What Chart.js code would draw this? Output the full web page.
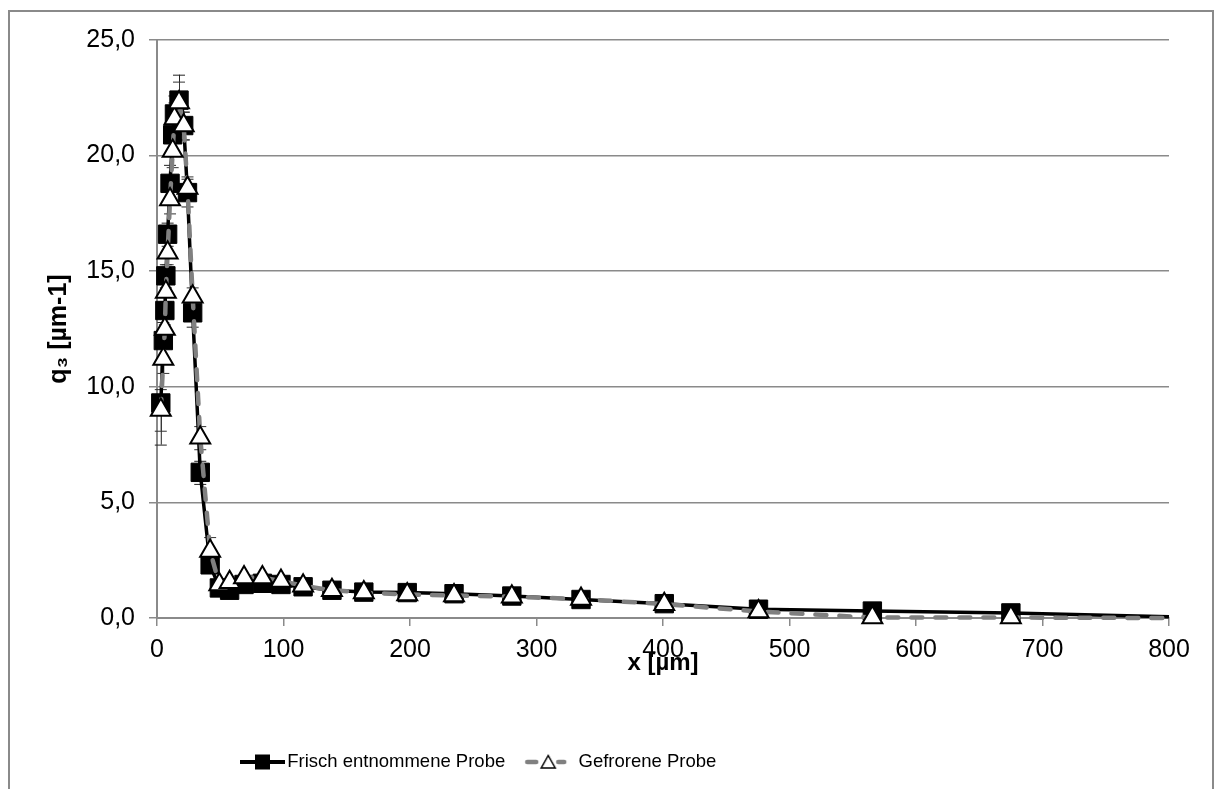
<!DOCTYPE html>
<html><head><meta charset="utf-8">
<script src="https://cdn.jsdelivr.net/npm/chart.js@4.4.1/dist/chart.umd.min.js"></script>
<style>
html,body{margin:0;padding:0;background:#fff;overflow:hidden;}
#wrap{position:relative;width:1221px;height:789px;}
#frame{position:absolute;left:8px;top:10px;width:1206px;height:820px;border:2px solid #8a8a8a;box-sizing:border-box;}
canvas{position:absolute;left:0;top:0;}
</style></head><body>
<div id="wrap"><div id="frame"></div><canvas id="c" width="1221" height="789"></canvas></div>
<script>
// ---- data ----
const xValues = [3.0, 5.0, 6.2, 7.0, 8.4, 10.3, 12.4, 13.8, 17.4, 21.1, 24.1, 28.2, 34.2, 42.0, 49.3, 57.4, 68.8, 83.3, 98.0, 115.5, 138.3, 163.5, 197.8, 234.8, 280.5, 335.2, 401.0, 475.5, 565.5, 675.0, 800.0];
const freshValues = [9.3, 12.0, 13.3, 14.8, 16.6, 18.8, 20.9, 21.8, 22.4, 21.3, 18.4, 13.2, 6.3, 2.3, 1.3, 1.2, 1.45, 1.5, 1.45, 1.35, 1.2, 1.12, 1.1, 1.05, 0.95, 0.8, 0.62, 0.38, 0.3, 0.22, 0.05];
const frozenValues = [9.0, 11.2, 12.5, 14.1, 15.8, 18.1, 20.2, 21.6, 22.3, 21.3, 18.6, 13.9, 7.8, 2.9, 1.45, 1.55, 1.75, 1.75, 1.6, 1.4, 1.2, 1.1, 1.02, 0.97, 0.92, 0.82, 0.6, 0.28, 0.02, 0.02, 0.0];
const freshErrors = [1.8, 0.8, 0.6, 0.5, 0.5, 0.8, 0.9, 0.8, 1.1, 0.6, 0.6, 0.6, 0.5, 0.3, 0.1, 0.1, 0.1, 0.1, 0.1, 0.1, 0.1, 0.1, 0.1, 0.1, 0.1, 0.1, 0.1, 0.1, 0.1, 0.1, 0];
const frozenErrors = [0.9, 0.6, 0.5, 0.4, 0.5, 0.6, 0.7, 0.7, 0.9, 0.6, 0.5, 0.4, 0.5, 0.6, 0.1, 0.1, 0.1, 0.1, 0.1, 0.1, 0.1, 0.1, 0.1, 0.1, 0.1, 0.1, 0.1, 0.1, 0.1, 0.1, 0];
const seriesLabels = ['Frisch entnommene Probe', 'Gefrorene Probe'];
const xTicks = [0, 100, 200, 300, 400, 500, 600, 700, 800];
const yTicks = [0, 5, 10, 15, 20, 25];
const xTitle = 'x [µm]';
const yTitle = 'q\u2083 [µm-1]';

const FONT = "'Liberation Sans', Arial, sans-serif";
const GRAY = '#808080';
const GRID = '#8a8a8a';

function pts(ys){ return xValues.map((x,i)=>({x:x, y:ys[i]})); }

function sampleFresh(){
  const c=document.createElement('canvas'); c.width=84; c.height=20;
  const g=c.getContext('2d');
  g.strokeStyle='#000'; g.lineWidth=4; g.beginPath(); g.moveTo(31,10); g.lineTo(76,10); g.stroke();
  g.fillStyle='#000'; g.fillRect(46,2.5,15,15);
  return c;
}
function sampleFrozen(){
  const c=document.createElement('canvas'); c.width=68; c.height=20;
  const g=c.getContext('2d');
  g.strokeStyle=GRAY; g.lineWidth=4.5; g.lineCap='round';
  g.beginPath(); g.moveTo(19,10); g.lineTo(28,10); g.stroke();
  g.beginPath(); g.moveTo(50,10); g.lineTo(56,10); g.stroke();
  g.fillStyle='#fff'; g.strokeStyle='#000'; g.lineWidth=1.5; g.lineCap='butt';
  g.beginPath(); g.moveTo(40,3.5); g.lineTo(47,16); g.lineTo(33,16); g.closePath(); g.fill(); g.stroke();
  return c;
}
const samples=[sampleFresh(), sampleFrozen()];

const errorBars = {
  id:'errorBars',
  beforeDatasetsDraw(chart){
    const ctx=chart.ctx, xs=chart.scales.x, ys=chart.scales.y;
    const sets=[[freshValues,freshErrors,'#222'],[frozenValues,frozenErrors,'#333']];
    ctx.save(); ctx.lineWidth=1;
    sets.forEach(([vals,errs,col])=>{
      ctx.strokeStyle=col;
      vals.forEach((v,i)=>{
        const e=errs[i]; if(!e) return;
        const px=xs.getPixelForValue(xValues[i]);
        const a=ys.getPixelForValue(v+e), b=ys.getPixelForValue(Math.max(0,v-e));
        ctx.beginPath();
        ctx.moveTo(px+0.5,a); ctx.lineTo(px+0.5,b);
        ctx.moveTo(px-6,a+0.5); ctx.lineTo(px+6,a+0.5);
        ctx.moveTo(px-6,b+0.5); ctx.lineTo(px+6,b+0.5);
        ctx.stroke();
      });
    });
    ctx.restore();
  }
};

// place the legend where the reference has it (left of centre)
const legendPlace = {
  id:'legendPlace',
  afterLayout(chart){ if(chart.legend){ chart.legend.left = 214; } }
};

new Chart(document.getElementById('c'), {
  type:'scatter',
  data:{ datasets:[
    { label:seriesLabels[0], data:pts(freshValues), showLine:true, order:2,
      borderColor:'#000', borderWidth:3.5, backgroundColor:'#000',
      pointStyle:'rect', pointRadius:(ctx)=> (ctx.raw && ctx.raw.x>=800) ? 0 : 13,
      pointBorderColor:'#000', pointBackgroundColor:'#000', pointBorderWidth:1, clip:false },
    { label:seriesLabels[1], data:pts(frozenValues), showLine:true, order:1,
      borderColor:GRAY, borderWidth:4.5, borderDash:[11,13], borderCapStyle:'round',
      pointStyle:'triangle', pointRadius:(ctx)=> (ctx.raw && ctx.raw.x>=800) ? 0 : 11.5,
      pointBorderColor:'#000', pointBackgroundColor:'#fff', pointBorderWidth:2, clip:false }
  ]},
  options:{
    responsive:false, animation:false, devicePixelRatio:1,
    layout:{ padding:{ left:0, top:40, right:52, bottom:7.75 } },
    plugins:{
      tooltip:{enabled:false},
      legend:{ position:'bottom', align:'start',
        labels:{ usePointStyle:true, pointStyleWidth:54, padding:10, color:'#000',
          font:{ family:FONT, size:18.5 },
          generateLabels:()=> seriesLabels.map((t,i)=>({ text:t, pointStyle:samples[i], datasetIndex:i, fillStyle:'#000', strokeStyle:'#000', lineWidth:0, hidden:false, fontColor:'#000' }))
        }
      }
    },
    scales:{
      x:{ type:'linear', min:0, max:800,
        afterFit:(s)=>{ s.height=124.75; },
        afterBuildTicks:(s)=>{ s.ticks = xTicks.map(v=>({value:v})); },
        border:{ display:true, color:GRID, width:2 },
        grid:{ display:true, drawOnChartArea:false, drawTicks:true, tickLength:8, color:GRID, lineWidth:1.5 },
        ticks:{ padding:9, color:'#000', font:{family:FONT, size:25}, callback:(v)=>String(v), maxRotation:0 },
        title:{ display:true, text:xTitle, color:'#000', font:{family:FONT, size:24, weight:'bold'}, padding:{top:0,bottom:65.35} }
      },
      y:{ type:'linear', min:0, max:25,
        afterFit:(s)=>{ s.width=157; },
        afterBuildTicks:(s)=>{ s.ticks = yTicks.map(v=>({value:v})); },
        border:{ display:true, color:GRID, width:2 },
        grid:{ display:true, drawOnChartArea:true, drawTicks:true, tickLength:8, color:GRID, lineWidth:1.5 },
        ticks:{ padding:14, color:'#000', font:{family:FONT, size:25}, callback:(v)=>v.toFixed(1).replace('.', ',') },
        title:{ display:true, text:yTitle, color:'#000', font:{family:FONT, size:25, weight:'bold'}, padding:{top:44,bottom:0} }
      }
    }
  },
  plugins:[errorBars, legendPlace]
});
</script>
</body></html>
